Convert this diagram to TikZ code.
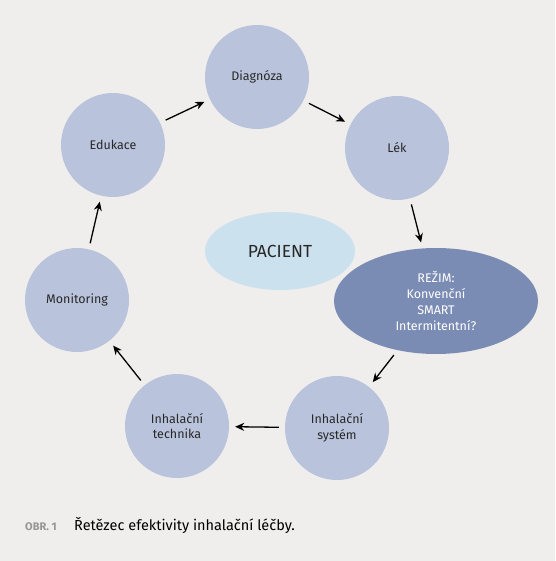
\documentclass[tikz,border=0pt]{standalone}
\usepackage{fontspec}
\setmainfont{Fira Sans}
\usepackage{xcolor}
\usepackage{tikz}
\usetikzlibrary{shapes,arrows.meta}
\definecolor{pagegray}{RGB}{239,238,236}
\definecolor{stageblue}{RGB}{185,196,220}
\definecolor{regimeblue}{RGB}{123,140,180}
\definecolor{patientblue}{RGB}{204,225,238}
\definecolor{textdark}{RGB}{40,40,40}
\definecolor{labelgray}{RGB}{150,150,150}

\begin{document}
\begin{tikzpicture}[x=1pt, y=-1pt,
  stage/.style={circle, minimum size=104pt, inner sep=0pt, fill=stageblue, text=textdark, align=center, font=\fontsize{12.5}{15.5}\selectfont},
  regime/.style={ellipse, minimum width=204pt, minimum height=106pt, inner sep=0pt, fill=regimeblue, text=white, align=center, font=\fontsize{12.5}{16}\selectfont},
  patient/.style={ellipse, minimum width=150pt, minimum height=78pt, inner sep=0pt, fill=patientblue, text=textdark, font=\fontsize{17.5}{20}\selectfont},
  arrow/.style={line width=1.3pt, -{Stealth[length=9pt,width=8pt]}, shorten <=6pt, shorten >=6pt}]

% Background
\fill[pagegray] (0,0) rectangle (555,561);
\useasboundingbox (0,0) rectangle (555,561);

% Chain of stages
\node[stage] (diag) at (257,77) {Diagnóza};
\node[stage] (lek) at (397,148) {Lék};
\node[regime] (rezim) at (436,301) {REŽIM:\\Konvenční\\SMART\\Intermitentní?};
\node[stage] (system) at (337,428) {Inhalační\\systém};
\node[stage] (technika) at (177,426) {Inhalační\\technika};
\node[stage] (monit) at (77,300) {Monitoring};
\node[stage] (eduk) at (113,145) {Edukace};

% Centre
\node[patient] (pacient) at (280,251) {PACIENT};

% Arrows
\draw[arrow] (eduk) -- (diag);
\draw[arrow] (diag) -- (lek);
\draw[arrow] (lek) -- (rezim);
\draw[arrow] (rezim) -- (system);
\draw[arrow] (system) -- (technika);
\draw[arrow] (technika) -- (monit);
\draw[arrow] (monit) -- (eduk);

% Caption
\node[anchor=base west, inner sep=0pt, text=labelgray, font=\fontsize{11}{13}\selectfont\bfseries] (obr) at (25,530) {OBR. 1};
\node[anchor=base west, inner sep=0pt, text=black, font=\fontsize{14.5}{17}\selectfont] (caption) at (74,530) {Řetězec efektivity inhalační léčby.};

\end{tikzpicture}
\end{document}
